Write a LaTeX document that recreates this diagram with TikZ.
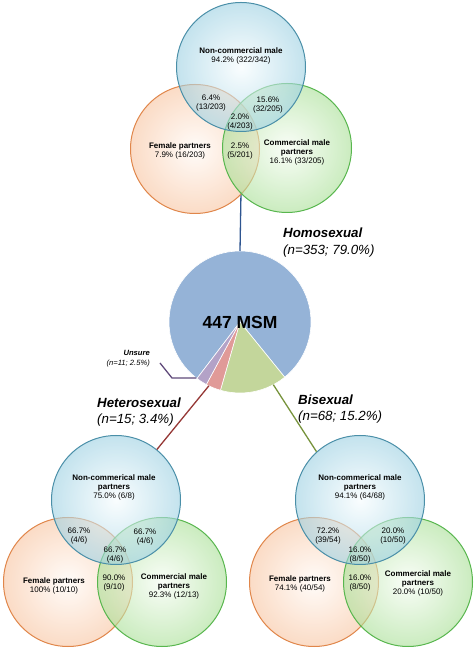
\documentclass[tikz,border=0pt]{standalone}
\usepackage{fontspec}
\setmainfont{Liberation Sans}

\definecolor{noncline}{HTML}{4A8FA8}
\definecolor{noncin}{HTML}{F6FCFE}
\definecolor{noncout}{HTML}{9CD0E2}
\definecolor{femline}{HTML}{E0864A}
\definecolor{femin}{HTML}{FFF9F4}
\definecolor{femout}{HTML}{F8C4A0}
\definecolor{comline}{HTML}{58B64E}
\definecolor{comin}{HTML}{F5FCF2}
\definecolor{comout}{HTML}{A8DF95}
\definecolor{pieblue}{HTML}{95B3D7}
\definecolor{piegreen}{HTML}{C3D69B}
\definecolor{piered}{HTML}{E09A98}
\definecolor{piepurple}{HTML}{B3A2C7}
\definecolor{homline}{HTML}{2E5590}
\definecolor{hetline}{HTML}{953735}
\definecolor{biline}{HTML}{77933C}
\definecolor{unsline}{HTML}{5F497A}

\tikzset{
  venn/.style={circle, minimum size=129pt, inner sep=0pt, line width=1pt, fill opacity=.6},
  noncirc/.style={venn, draw=noncline, inner color=noncin, outer color=noncout},
  femcirc/.style={venn, draw=femline, inner color=femin, outer color=femout},
  comcirc/.style={venn, draw=comline, inner color=comin, outer color=comout},
  lbl/.style={font=\fontsize{8}{9}\selectfont, align=center, inner sep=0pt},
  grp/.style={font=\fontsize{13.3}{16.5}\selectfont, align=left, anchor=west, inner sep=0pt},
  slice/.style={draw=white, line width=.6pt},
  link/.style={line width=1.3pt}
}

\begin{document}
\begin{tikzpicture}[x=1pt, y=1pt]

\useasboundingbox
(0,0)
rectangle
(474,653);

% Camembert central
\coordinate (piec) at (240,331);
\fill[pieblue, slice] (piec) -- ++(-51:71) arc[start angle=-51, end angle=232.7, radius=71] -- cycle;
\fill[piegreen, slice] (piec) -- ++(-51:71) arc[start angle=-51, end angle=-106, radius=71] -- cycle;
\fill[piered, slice] (piec) -- ++(-106:71) arc[start angle=-106, end angle=-118.3, radius=71] -- cycle;
\fill[piepurple, slice] (piec) -- ++(-118.3:71) arc[start angle=-118.3, end angle=-127.3, radius=71] -- cycle;

\node[circle, minimum size=142pt, inner sep=0pt, outer sep=0pt,
      font=\fontsize{17.5}{20}\selectfont\bfseries]
(pie)
at (piec)
{447 MSM};

% Homosexuel
\coordinate (homtop) at (241,461);
\draw[homline, link]
(homtop)
--
(pie.north);

\node[femcirc] (topF) at (195,504) {};
\node[comcirc] (topC) at (287,505) {};
\node[noncirc] (topB) at (241,586) {};

\node[lbl]
(topBt)
at (241,597)
{\textbf{Non-commercial male}\\94.2\% (322/342)};
\node[lbl]
(topBF)
at (211,550)
{6.4\%\\(13/203)};
\node[lbl]
(topBC)
at (268,548)
{15.6\%\\(32/205)};
\node[lbl]
(topBFC)
at (240,530.5)
{2.0\%\\(4/203)};
\node[lbl]
(topFC)
at (240,501.5)
{2.5\%\\(5/201)};
\node[lbl]
(topFt)
at (180,502)
{\textbf{Female partners}\\7.9\% (16/203)};
\node[lbl]
(topCt)
at (297,500.5)
{\textbf{Commercial male}\\\textbf{partners}\\16.1\% (33/205)};

\node[grp]
(homlbl)
at (283,410.5)
{\textbf{\itshape Homosexual}\\\itshape (n=353; 79.0\%)};

% Incertain
\node[font=\fontsize{7.6}{9.5}\selectfont, align=right, anchor=east, inner sep=0pt]
(unsure)
at (150,294.5)
{\textbf{\itshape Unsure}\\\itshape (n=11; 2.5\%)};
\coordinate (ustart) at (160,290);
\coordinate (ubend) at (172,275);
\draw[unsline, link]
(ustart)
--
(ubend)
--
(pie.-128);

% Heterosexuel
\node[femcirc] (hetF) at (68,71) {};
\node[comcirc] (hetC) at (162,71) {};
\node[noncirc] (hetB) at (116,153) {};

\draw[hetline, link]
(pie.-116)
--
(hetB.51);

\node[grp]
(hetlbl)
at (97,241)
{\textbf{\itshape Heterosexual}\\\itshape (n=15; 3.4\%)};

\node[lbl]
(hetBt)
at (114,166)
{\textbf{Non-commerical male}\\\textbf{partners}\\75.0\% (6/8)};
\node[lbl]
(hetBF)
at (79,117)
{66.7\%\\(4/6)};
\node[lbl]
(hetBC)
at (145,116)
{66.7\%\\(4/6)};
\node[lbl]
(hetBFC)
at (115,97.5)
{66.7\%\\(4/6)};
\node[lbl]
(hetFC)
at (114,70)
{90.0\%\\(9/10)};
\node[lbl]
(hetFt)
at (54,67.5)
{\textbf{Female partners}\\100\% (10/10)};
\node[lbl]
(hetCt)
at (174,67)
{\textbf{Commercial male}\\\textbf{partners}\\92.3\% (12/13)};

% Bisexuel
\node[femcirc] (biF) at (314,71) {};
\node[comcirc] (biC) at (408,71) {};
\node[noncirc] (biB) at (360,153) {};

\draw[biline, link]
(pie.-62)
--
(biB.132);

\node[grp]
(bilbl)
at (298,244)
{\textbf{\itshape Bisexual}\\\itshape (n=68; 15.2\%)};

\node[lbl]
(biBt)
at (360,166)
{\textbf{Non-commerical male}\\\textbf{partners}\\94.1\% (64/68)};
\node[lbl]
(biBF)
at (328,117)
{72.2\%\\(39/54)};
\node[lbl]
(biBC)
at (393,116.5)
{20.0\%\\(10/50)};
\node[lbl]
(biBFC)
at (360,98)
{16.0\%\\(8/50)};
\node[lbl]
(biFC)
at (360,70)
{16.0\%\\(8/50)};
\node[lbl]
(biFt)
at (300,69)
{\textbf{Female partners}\\74.1\% (40/54)};
\node[lbl]
(biCt)
at (418,70)
{\textbf{Commercial male}\\\textbf{partners}\\20.0\% (10/50)};

\end{tikzpicture}
\end{document}
